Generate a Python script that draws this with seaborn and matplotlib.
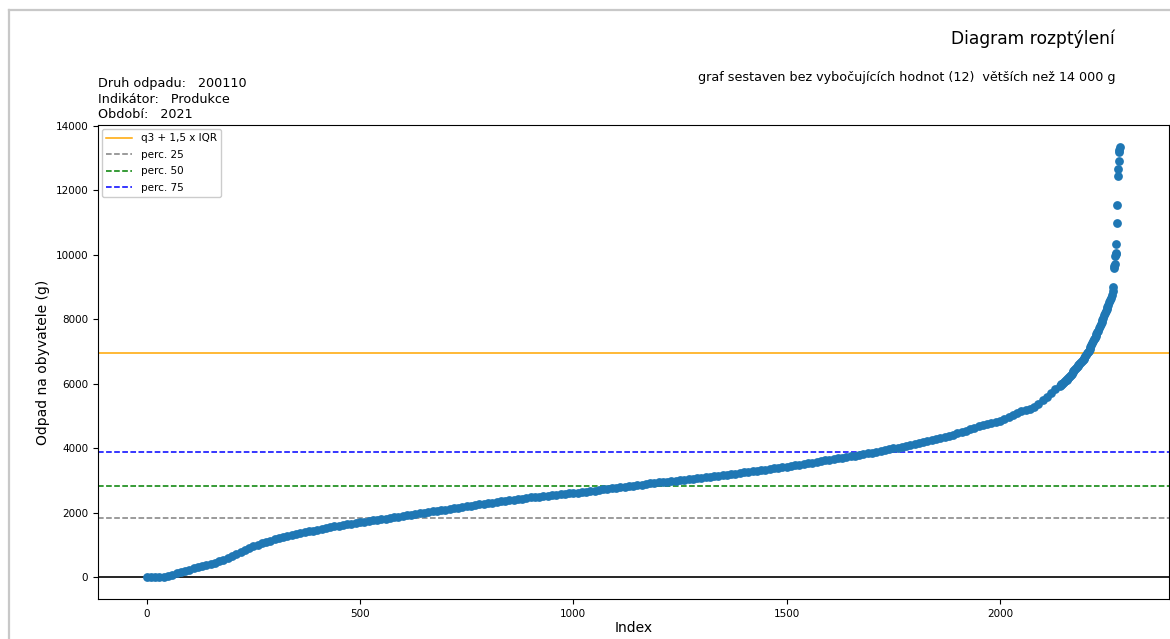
import numpy as np
import pandas as pd
import matplotlib
matplotlib.use("Agg")
import matplotlib.pyplot as plt
from matplotlib.lines import Line2D
import seaborn as sns

# Sorted waste per inhabitant (g); ranks 0..2130 every 10th point
values_main = [
    0, 0, 5, 15, 28, 48, 85, 125, 165, 205,
    245, 285, 325, 362, 395, 430, 462, 495, 545, 610,
    675, 740, 795, 855, 910, 965, 1010, 1055, 1100, 1140,
    1180, 1210, 1245, 1275, 1310, 1342, 1375, 1405, 1430, 1455,
    1482, 1508, 1535, 1560, 1588, 1608, 1628, 1648, 1668, 1688,
    1706, 1726, 1746, 1766, 1786, 1806, 1826, 1846, 1866, 1885,
    1905, 1925, 1944, 1964, 1984, 2004, 2024, 2044, 2064, 2084,
    2104, 2124, 2143, 2163, 2183, 2203, 2222, 2242, 2262, 2282,
    2302, 2322, 2342, 2362, 2378, 2395, 2412, 2428, 2445, 2462,
    2478, 2494, 2508, 2522, 2536, 2549, 2563, 2577, 2590, 2604,
    2618, 2631, 2645, 2660, 2677, 2693, 2710, 2727, 2743, 2760,
    2777, 2794, 2811, 2828, 2846, 2863, 2880, 2898, 2915, 2930,
    2944, 2959, 2973, 2988, 3002, 3017, 3031, 3047, 3063, 3078,
    3094, 3110, 3125, 3141, 3157, 3173, 3189, 3205, 3220, 3236,
    3252, 3268, 3285, 3304, 3322, 3341, 3359, 3378, 3396, 3414,
    3435, 3456, 3477, 3498, 3519, 3540, 3561, 3583, 3604, 3625,
    3646, 3667, 3689, 3710, 3731, 3752, 3776, 3800, 3823, 3847,
    3871, 3895, 3918, 3943, 3969, 3996, 4022, 4048, 4075, 4101,
    4128, 4157, 4189, 4220, 4252, 4283, 4315, 4347, 4378, 4418,
    4462, 4506, 4549, 4593, 4636, 4680, 4724, 4760, 4794, 4828,
    4861, 4917, 4973, 5040, 5095, 5145, 5185, 5228, 5280, 5385,
    5495, 5605, 5714, 5826,
]
# ranks 2140..2266, every 2nd point
values_steep = [
    5939, 5960, 5983, 6006, 6028, 6051, 6078, 6104, 6131, 6158,
    6185, 6218, 6251, 6285, 6318, 6351, 6384, 6418, 6451, 6484,
    6517, 6550, 6584, 6617, 6650, 6683, 6716, 6748, 6781, 6813,
    6846, 6890, 6940, 6990, 7030, 7080, 7140, 7200, 7260, 7320,
    7380, 7430, 7490, 7540, 7600, 7650, 7720, 7790, 7850, 7920,
    7980, 8050, 8120, 8180, 8250, 8320, 8380, 8450, 8520, 8590,
    8650, 8750, 8860, 8990,
]
# ranks 2267..2281, every point
values_tail = [
    9580, 9640, 9720, 9950, 10020, 10060, 10320, 10980,
    11530, 12430, 12650, 12900, 13180, 13250, 13350,
]

ranks_main = list(range(0, 2140, 10))
ranks_steep = list(range(2140, 2267, 2))
ranks_tail = list(range(2267, 2282))

perc25 = 1850
perc50 = 2840
perc75 = 3890
upper_fence = perc75 + 1.5 * (perc75 - perc25)

df = pd.DataFrame({
    "Index": ranks_main + ranks_steep + ranks_tail,
    "value": values_main + values_steep + values_tail,
})

W, H = 1170, 639
fig = plt.figure(figsize=(W / 100, H / 100), dpi=100)
ax = fig.add_axes([98 / W, 1 - 599 / H, (1168.5 - 98) / W, (599 - 125) / H])

sns.scatterplot(data=df, x="Index", y="value", ax=ax, s=40,
                color="#1f77b4", linewidth=0, legend=False, zorder=3)

ax.axhline(upper_fence, color="orange", lw=1.1, label="q3 + 1,5 x IQR", zorder=2)
ax.axhline(perc25, color="gray", lw=1.1, ls="--", label="perc. 25", zorder=2)
ax.axhline(perc50, color="green", lw=1.1, ls="--", label="perc. 50", zorder=2)
ax.axhline(perc75, color="blue", lw=1.1, ls="--", label="perc. 75", zorder=2)
ax.axhline(0, color="black", lw=1.2, zorder=2)

ax.set_xlim(-114, 2395)
ax.set_ylim(-667, 14017)
ax.set_xticks([0, 500, 1000, 1500, 2000])
ax.set_yticks(range(0, 14001, 2000))
ax.tick_params(labelsize=7.5)
ax.set_xlabel("Index", fontsize=10, labelpad=2)
ax.set_ylabel("Odpad na obyvatele (g)", fontsize=10)

ax.legend(loc="upper left", fontsize=7.5, handlelength=2.5, framealpha=1,
          borderaxespad=0.4, labelspacing=0.62)

# figure texts
fig.text(1115 / W, 1 - 44 / H, "Diagram rozptýlení", ha="right",
         va="baseline", fontsize=12.3)
fig.text(1115 / W, 1 - 81.5 / H,
         "graf sestaven bez vybočujících hodnot (12)  větších než 14 000 g",
         ha="right", va="baseline", fontsize=9.2)
for y, line in zip([87.0, 102.6, 118.3],
                   ["Druh odpadu:   200110", "Indikátor:   Produkce", "Období:   2021"]):
    fig.text(98 / W, 1 - y / H, line, ha="left", va="baseline", fontsize=9.2)

# light frame around the page
fig.add_artist(Line2D([9 / W, 9 / W], [0, 1 - 10 / H], transform=fig.transFigure,
                      color="#c8c8c8", lw=1.6))
fig.add_artist(Line2D([9 / W, 1], [1 - 10 / H, 1 - 10 / H], transform=fig.transFigure,
                      color="#c8c8c8", lw=1.6))

fig.savefig("out.png", dpi=100)
